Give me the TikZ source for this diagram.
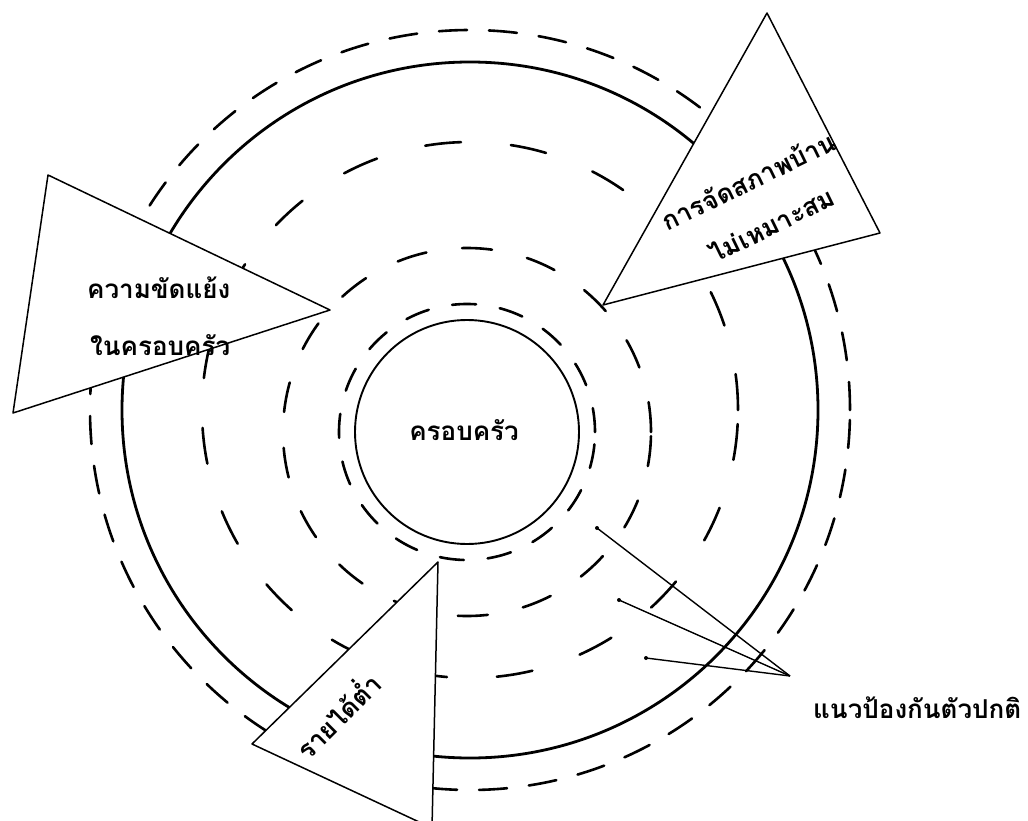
\documentclass[tikz,border=0pt]{standalone}
\usepackage{fontspec}
\newfontfamily\thaifont[Script=Thai]{Loma}
\begin{document}
\begin{tikzpicture}[x=1pt,y=-1pt,
  solidring/.style={line width=2.8pt},
  innerring/.style={line width=1.9pt},
  dashring/.style={line width=2.6pt, line cap=round},
  tri/.style={draw, fill=white, line width=1.5pt, line join=round},
  lbl/.style={font=\thaifont\bfseries\fontsize{26}{30}\selectfont, inner sep=0pt},
  ptr/.style={line width=1.4pt},
  ptrdot/.style={fill=black}]
\useasboundingbox (0,0) rectangle (1028,821);
\fill[white] (0,0) rectangle (1028,821);
% centres
\coordinate (C) at (470,410);
\coordinate (c) at (467,432);
% rings
\draw[dashring, dash pattern=on 28pt off 22pt] (C) circle[radius=380pt];
\draw[solidring] (C) circle[radius=348pt];
\draw[dashring, dash pattern=on 36pt off 50pt] (C) circle[radius=268pt];
\draw[dashring, dash pattern=on 30pt off 36pt] (c) circle[radius=184pt];
\draw[dashring, dash pattern=on 24pt off 24pt] (c) circle[radius=128pt];
\draw[innerring] (c) circle[radius=112pt];
% triangles
\path[tri] (48,175) -- (330,310) -- (13,413) -- cycle;
\path[tri] (767,13) -- (880,233) -- (603,305) -- cycle;
\path[tri] (438,562) -- (432,828) -- (252,744) -- cycle;
% texts
\node[lbl, anchor=base west] (t1) at (87,298) {ความขัดแย้ง};
\node[lbl, anchor=base west] (t2) at (90,355) {ในครอบครัว};
\node[lbl, anchor=base, rotate=26] (t3) at (753,190) {การจัดสภาพบ้าน};
\node[lbl, anchor=base, rotate=26] (t4) at (776,234) {ไม่เหมาะสม};
\node[lbl, anchor=base, rotate=45] (t5) at (346,724) {รายได้ต่ำ};
\node[lbl, anchor=base] (t6) at (464,440) {ครอบครัว};
\node[lbl, anchor=base west] (t7) at (813,718) {แนวป้องกันตัวปกติ};
% pointers
\coordinate (p0) at (790,676);
\coordinate (p1) at (597,528);
\coordinate (p2) at (619,600);
\coordinate (p3) at (646,658);
\draw[ptr] (p1) -- (p0);
\draw[ptr] (p2) -- (p0);
\draw[ptr] (p3) -- (p0);
\fill[ptrdot] (p1) circle[radius=2pt] (p2) circle[radius=2pt] (p3) circle[radius=2pt];
\end{tikzpicture}
\end{document}
